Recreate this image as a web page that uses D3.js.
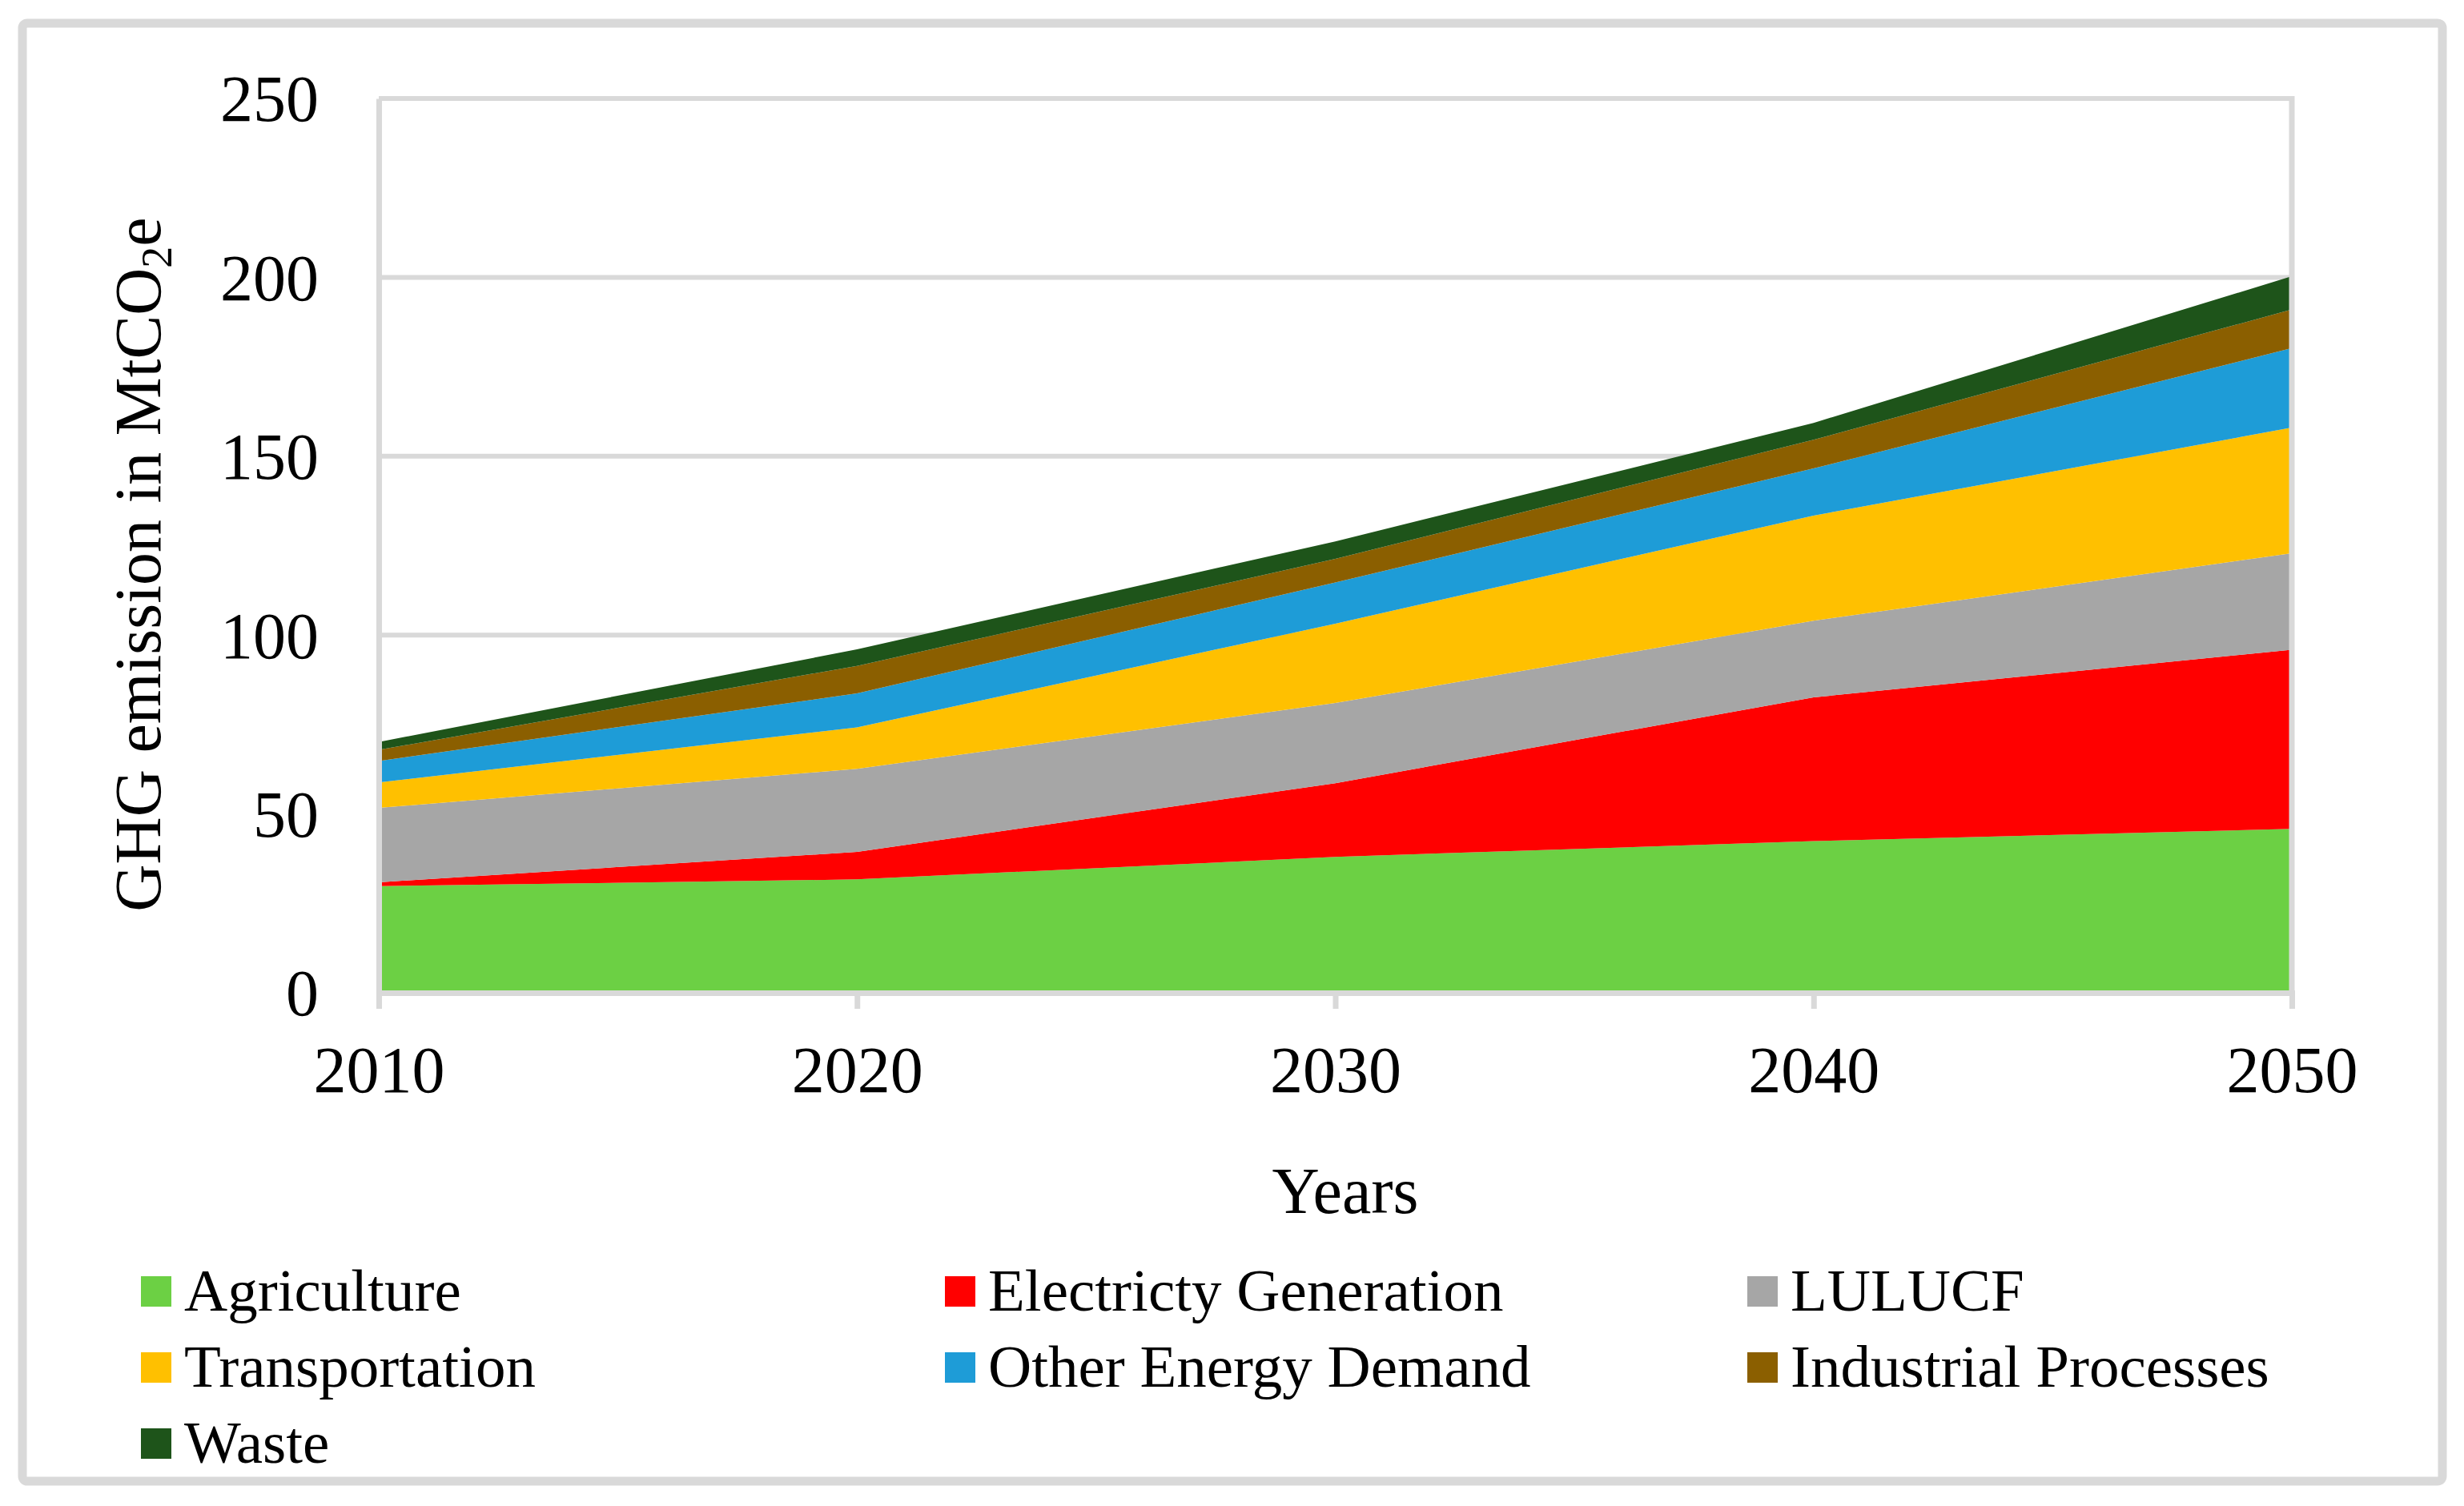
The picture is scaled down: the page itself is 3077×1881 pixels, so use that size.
<!DOCTYPE html>
<html>
<head>
<meta charset="utf-8">
<script src="https://cdn.jsdelivr.net/npm/d3@7"></script>
<style>
  body { margin: 0; background: #fff; }
  svg text { font-family: "Liberation Serif", "Times New Roman", serif; fill: #000; }
</style>
</head>
<body>
<div id="chart"></div>
<script>
// chart values
const years = [2010, 2020, 2030, 2040, 2050];
const sectors = ['Agriculture', 'Electricty Generation', 'LULUCF', 'Transportation',
  'Other Energy Demand', 'Industrial Processes', 'Waste'];
const agriculture = [29.8, 31.7, 38.0, 42.4, 45.8];
const electricity = [1.1, 7.7, 20.6, 40.2, 50.1];
const lulucf = [20.8, 23.2, 22.4, 21.4, 27.0];
const transportation = [7.1, 11.6, 22.2, 29.4, 35.1];
const otherEnergy = [6.0, 9.5, 11.5, 13.2, 22.2];
const industrial = [3.1, 7.7, 6.6, 8.0, 10.8];
const waste = [2.2, 4.6, 4.9, 4.7, 9.3];
const yTicks = [0, 50, 100, 150, 200, 250];
const colors = ['#6cd044', '#ff0000', '#a6a6a6', '#ffc000', '#1e9cd7', '#8b5f00', '#1e541a'];

const series = [agriculture, electricity, lulucf, transportation, otherEnergy, industrial, waste];
const rows = years.map((yr, i) => {
  const row = { year: yr };
  sectors.forEach((s, j) => { row[s] = series[j][i]; });
  return row;
});

const W = 3077, H = 1881;
const margin = { left: 473, right: W - 2862, top: 123, bottom: H - 1240 };
const width = W - margin.left - margin.right;
const height = H - margin.top - margin.bottom;
const grid = '#d9d9d9';

const svg = d3.select('#chart').append('svg')
  .attr('width', W).attr('height', H);
svg.append('rect').attr('width', W).attr('height', H).attr('fill', '#fff');

// outer chart border
svg.append('rect')
  .attr('x', 28).attr('y', 29)
  .attr('width', 3022).attr('height', 1821)
  .attr('rx', 6)
  .attr('fill', 'none').attr('stroke', grid).attr('stroke-width', 11);

const g = svg.append('g').attr('transform', `translate(${margin.left},${margin.top})`);

const x = d3.scaleLinear().domain([2010, 2050]).range([0, width]);
const y = d3.scaleLinear().domain([0, 250]).range([height, 0]);

// horizontal gridlines
g.append('g').selectAll('line').data(yTicks.slice(1)).join('line')
  .attr('x1', 0).attr('x2', width)
  .attr('y1', d => y(d)).attr('y2', d => y(d))
  .attr('stroke', grid).attr('stroke-width', 6);

const stack = d3.stack().keys(sectors);
const layers = stack(rows);
const area = d3.area()
  .x(d => x(d.data.year))
  .y0(d => y(d[0]))
  .y1(d => y(d[1]));

g.append('g').selectAll('path').data(layers).join('path')
  .attr('d', area)
  .attr('fill', (d, i) => colors[i]);

// plot frame right side
g.append('line').attr('x1', width).attr('x2', width).attr('y1', -3).attr('y2', height)
  .attr('stroke', grid).attr('stroke-width', 7);

// y axis
const yAxis = g.append('g')
  .call(d3.axisLeft(y).tickValues(yTicks).tickSize(0).tickPadding(75));
yAxis.select('.domain').attr('stroke', grid).attr('stroke-width', 7);
yAxis.selectAll('text').style('font-size', '82px').attr('dy', '0.34em');

// x axis
const xAxis = g.append('g')
  .attr('transform', `translate(0,${height})`)
  .call(d3.axisBottom(x).tickValues(years).tickFormat(d3.format('d')).tickSize(20).tickPadding(46));
xAxis.select('.domain').attr('stroke', grid).attr('stroke-width', 7);
xAxis.selectAll('.tick line').attr('stroke', grid).attr('stroke-width', 7);
xAxis.selectAll('text').style('font-size', '82px').attr('dy', '0.71em');

// axis titles
svg.append('text')
  .attr('x', 1680).attr('y', 1515)
  .attr('text-anchor', 'middle')
  .style('font-size', '82px')
  .text('Years');

const yTitle = svg.append('text')
  .attr('transform', 'translate(200,705) rotate(-90)')
  .attr('text-anchor', 'middle')
  .style('font-size', '82px');
yTitle.append('tspan').text('GHG emission in MtCO');
yTitle.append('tspan').attr('dy', 14).style('font-size', '54px').text('2');
yTitle.append('tspan').attr('dy', -14).text('e');

// legend
const legendCols = [176, 1180, 2182];
const legendRows = [1613, 1708, 1803];
const legend = svg.append('g').selectAll('g').data(sectors).join('g')
  .attr('transform', (d, i) => `translate(${legendCols[i % 3]},${legendRows[Math.floor(i / 3)]})`);
legend.append('rect')
  .attr('x', 0).attr('y', -19).attr('width', 38).attr('height', 38)
  .attr('fill', (d, i) => colors[i]);
legend.append('text')
  .attr('x', 54).attr('y', 24)
  .style('font-size', '75px')
  .text(d => d);
</script>
</body>
</html>
